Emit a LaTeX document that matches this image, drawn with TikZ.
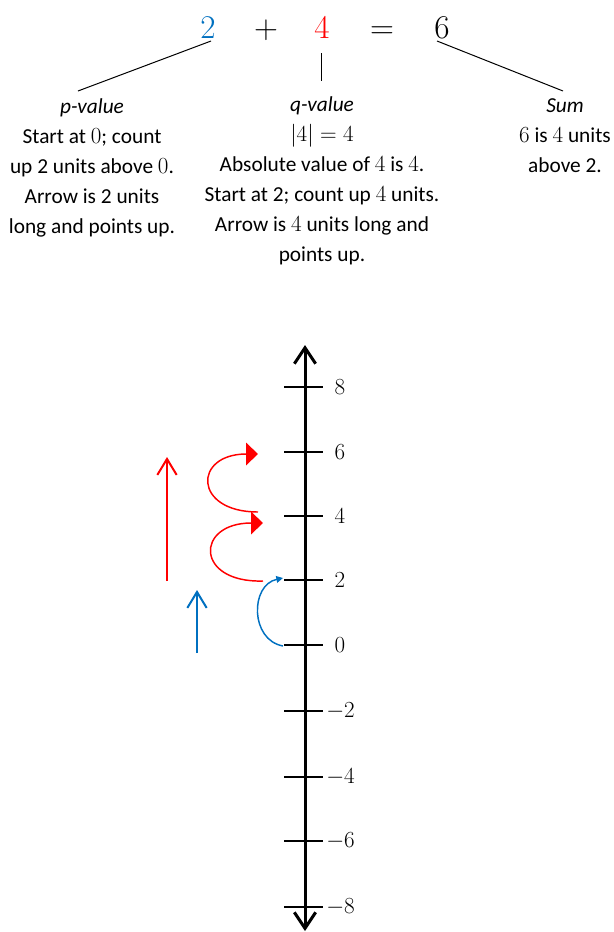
\documentclass[tikz,border=0pt]{standalone}
\usepackage{fontspec}
\setmainfont{Carlito}
\usepackage{tikz}
\usetikzlibrary{arrows.meta,positioning}
\definecolor{pblue}{RGB}{0,112,192}
\definecolor{qred}{RGB}{255,0,0}

\begin{document}
\begin{tikzpicture}[x=0.75pt, y=-0.75pt, every node/.style={inner sep=0pt},
    eqnum/.style={font=\fontsize{29}{32}\selectfont, anchor=base},
    infotext/.style={font=\fontsize{16}{22.5}\selectfont, align=center, anchor=north},
    leader/.style={line width=0.75pt},
    tickmark/.style={line width=1.5pt},
    ticklbl/.style={font=\fontsize{17.5}{20}\selectfont},
    axisline/.style={line width=2.25pt,
      {Straight Barb[length=12pt,width=16pt]}-{Straight Barb[length=12pt,width=16pt]}},
    jump/.style={line width=1.5pt, -{Straight Barb[length=12pt,width=14.5pt]}},
    hop/.style={line width=1.1pt}]
        \useasboundingbox (0,0) rectangle (614,932);
        % Equation
        \node[eqnum, pblue] (two) at (208,38) {$2$};
        \node[eqnum] (plus) at (266,38) {$+$};
        \node[eqnum, qred] (four) at (322,38) {$4$};
        \node[eqnum] (equals) at (382,38) {$=$};
        \node[eqnum] (six) at (442,38) {$6$};
        % Explanations
        \node[infotext] (pinfo) at (92,98) {\textit{p-value}\\Start at $0$; count\\up 2 units above $0$.\\Arrow is 2 units\\long and points up.};
        \node[infotext] (qinfo) at (322,96) {\textit{q-value}\\$|4|=4$\\Absolute value of $4$ is $4$.\\Start at 2; count up $4$ units.\\Arrow is $4$ units long and\\points up.};
        \node[infotext] (suminfo) at (565,98) {\textit{Sum}\\$6$ is $4$ units\\above 2.};
        % Leaders
        \coordinate (pstart) at (211,41);
        \coordinate (pend) at (78,91);
        \coordinate (qstart) at (321,53);
        \coordinate (qend) at (321,81);
        \coordinate (sstart) at (437,41);
        \coordinate (send) at (563,91);
        \draw[leader] (pstart) -- (pend);
        \draw[leader] (qstart) -- (qend);
        \draw[leader] (sstart) -- (send);
        % Number line
        \coordinate (axbot) at (305,931);
        \coordinate (axtop) at (305,345);
        \draw[axisline] (axbot) -- (axtop);
        \foreach \v/\yy in {8/387,6/452,4/516,2/580,0/645,-2/711,-4/777,-6/841,-8/907} {
          \draw[tickmark] (284,\yy) -- (323,\yy);
          \ifnum\v<0
            \node[ticklbl, anchor=east] (lbl\v) at (355,\yy) {$\v$};
          \else
            \node[ticklbl] (lbl\v) at (340,\yy) {$\v$};
          \fi
        }
        % Arrows
        \coordinate (pfoot) at (197,653);
        \coordinate (phead) at (197,590);
        \coordinate (qfoot) at (167,581);
        \coordinate (qhead) at (167,457);
        \draw[jump, pblue] (pfoot) -- (phead);
        \draw[jump, qred] (qfoot) -- (qhead);
        % Hops
        \coordinate (hzero) at (283,646);
        \coordinate (htwo) at (283,578);
        \coordinate (rstart) at (263,581);
        \coordinate (rmid) at (263,523);
        \coordinate (rnext) at (258,512);
        \coordinate (rend) at (258,454);
        \draw[hop, pblue, -{Triangle[length=5pt,width=5pt]}] (hzero)
          .. controls (250,640) and (250,585) .. (htwo);
        \draw[hop, qred, -{Triangle[length=9pt,width=17pt]}] (rstart)
          .. controls (195,583) and (195,523) .. (rmid);
        \draw[hop, qred, -{Triangle[length=9pt,width=17pt]}] (rnext)
          .. controls (193,512) and (193,454) .. (rend);
      \end{tikzpicture}
\end{document}
